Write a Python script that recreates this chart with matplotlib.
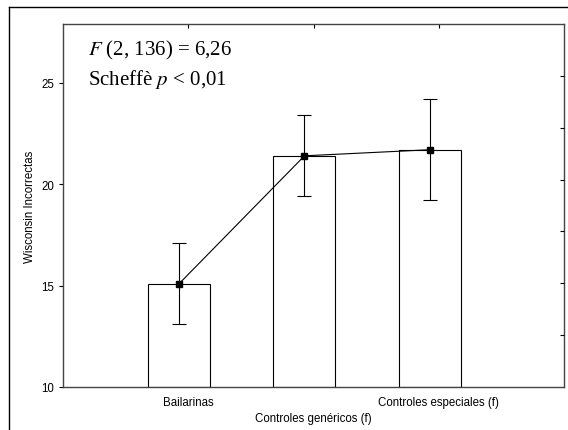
import numpy as np
import matplotlib.pyplot as plt
from matplotlib.lines import Line2D

categories = ['Bailarinas', 'Controles genéricos (f)', 'Controles especiales (f)']
means = [15.1, 21.4, 21.7]
errors = [2.0, 2.0, 2.5]

plt.rcParams['font.family'] = 'Liberation Sans'

fig = plt.figure(figsize=(5.68, 4.31), dpi=100)
ax = fig.add_axes([63 / 568, 43 / 431, 501 / 568, 363 / 431])

ticks = np.arange(1, len(categories) + 1)
# bars sit slightly left of the category ticks
pos = ticks - 0.072

ax.bar(pos, np.array(means) - 10, bottom=10, width=0.495,
       color='white', edgecolor='black', linewidth=0.8, zorder=2)
ax.errorbar(pos, means, yerr=errors, fmt='none', ecolor='black',
            elinewidth=0.8, capsize=4.7, capthick=0.8, zorder=3)
ax.plot(pos, means, color='black', linewidth=0.8, marker='s',
        markersize=4.5, zorder=4)

ax.set_xlim(0, 4)
ax.set_ylim(10, 27.9)
ax.set_yticks([10, 15, 20, 25])
ax.set_xticks(ticks)
labels = ax.set_xticklabels(['Bailarinas', '\n' + categories[1], categories[2]])
labels[1].set_linespacing(1.4)
ax.tick_params(axis='x', direction='in', length=3, labelsize=8.3, pad=6.5,
               top=True)
ax.tick_params(axis='y', direction='out', length=3, labelsize=8.3)
ax.set_ylabel('Wisconsin Incorrectas', fontsize=8.3, labelpad=4)

for side in ['left', 'right', 'top', 'bottom']:
    ax.spines[side].set_color('#444444')
    ax.spines[side].set_linewidth(1.0)

# right axis: unlabeled ticks splitting the height into 7 parts
rax = ax.twinx()
rax.set_ylim(0, 7)
rax.set_yticks(np.arange(1, 7))
rax.set_yticklabels([])
rax.tick_params(axis='y', direction='in', length=3)
for side in ['left', 'right', 'top', 'bottom']:
    rax.spines[side].set_visible(False)

ax.text(0.05, 0.915, r'$F$ (2, 136) = 6,26', transform=ax.transAxes,
        family='Liberation Serif', fontsize=15, va='baseline',
        math_fontfamily='stix')
ax.text(0.05, 0.835, r'Scheffè $p$ < 0,01', transform=ax.transAxes,
        family='Liberation Serif', fontsize=15, va='baseline',
        math_fontfamily='stix')

# outer frame lines
fig.add_artist(Line2D([9 / 568, 9 / 568], [0, 1 - 8 / 431],
                      transform=fig.transFigure, color='black', lw=1.0))
fig.add_artist(Line2D([9 / 568, 1], [1 - 8 / 431, 1 - 8 / 431],
                      transform=fig.transFigure, color='black', lw=1.0))

fig.savefig('out.png', dpi=100)
